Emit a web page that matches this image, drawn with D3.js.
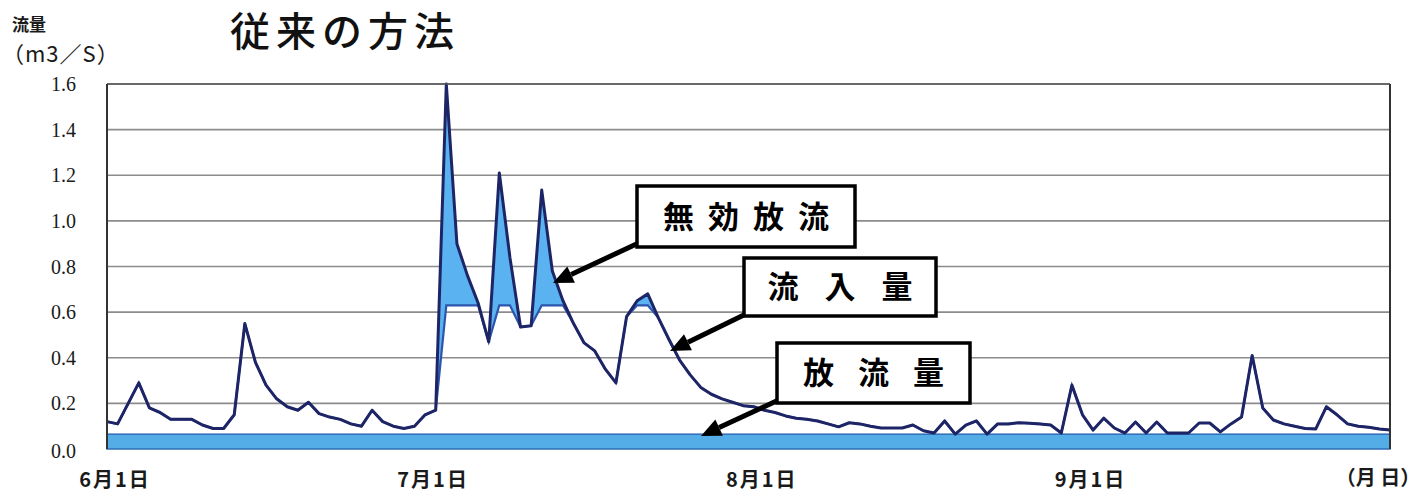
<!DOCTYPE html>
<html>
<head>
<meta charset="utf-8">
<script src="https://cdn.jsdelivr.net/npm/d3@7"></script>
<style>
  body { margin: 0; background: #fff; }
</style>
</head>
<body>
<div id="chart"></div>
<script>
// daily inflow (m3/s), 6/1 .. 9/30
const firstDay = '2009-06-01'
const inflow = [
  // June
  0.12, 0.11, 0.20, 0.29, 0.18, 0.16, 0.13, 0.13, 0.13, 0.105,
  0.09, 0.09, 0.15, 0.55, 0.38, 0.28, 0.22, 0.185, 0.17, 0.205,
  0.155, 0.14, 0.13, 0.11, 0.10, 0.17, 0.12, 0.10, 0.09, 0.10,
  // July
  0.15, 0.17, 1.60, 0.90, 0.76, 0.64, 0.47, 1.21, 0.84, 0.535,
  0.54, 1.135, 0.78, 0.65, 0.55, 0.465, 0.43, 0.35, 0.29, 0.58,
  0.65, 0.68, 0.575, 0.48, 0.39, 0.325, 0.27, 0.24, 0.22, 0.205,
  0.19,
  // August
  0.185, 0.17, 0.16, 0.145, 0.135, 0.13, 0.123, 0.11, 0.097, 0.115,
  0.11, 0.10, 0.092, 0.092, 0.092, 0.105, 0.08, 0.07, 0.123, 0.065,
  0.105, 0.123, 0.065, 0.11, 0.11, 0.115, 0.113, 0.11, 0.105, 0.07,
  0.28,
  // September
  0.15, 0.083, 0.135, 0.092, 0.07, 0.118, 0.07, 0.118, 0.07, 0.07,
  0.07, 0.114, 0.114, 0.075, 0.11, 0.14, 0.41, 0.18, 0.127, 0.11,
  0.10, 0.09, 0.088, 0.185, 0.15, 0.11, 0.10, 0.095, 0.088, 0.083
]
const capacity = 0.63      // intake limit, above it is 無効放流
const outflowLevel = 0.065 // 放流量

const yTicks = [0, 0.2, 0.4, 0.6, 0.8, 1.0, 1.2, 1.4, 1.6]
const xTickDays = ['2009-06-01', '2009-07-01', '2009-08-01', '2009-09-01']
const xTickLabels = ['6月1日', '7月1日', '8月1日', '9月1日']
const noteLabels = ['無効放流', '流入量', '放流量']

const width = 1421
const height = 501
const plot = { left: 107, right: 1390, top: 84, bottom: 449 }

const parse = d3.utcParse('%Y-%m-%d')
const start = parse(firstDay)
const data = inflow.map((v, i) => ({ date: d3.utcDay.offset(start, i), v }))

const svg = d3
  .select('#chart')
  .append('svg')
  .attr('width', width)
  .attr('height', height)
  .style('font-family', "'Noto Sans CJK JP', sans-serif")

const x = d3
  .scaleUtc()
  .domain(d3.extent(data, d => d.date))
  .range([plot.left, plot.right])

const y = d3
  .scaleLinear()
  .domain([0, 1.6])
  .range([plot.bottom, plot.top])

// gridlines
svg
  .append('g')
  .selectAll('line')
  .data(yTicks.filter(t => t > 0))
  .join('line')
  .attr('x1', plot.left)
  .attr('x2', plot.right)
  .attr('y1', d => y(d))
  .attr('y2', d => y(d))
  .attr('stroke', '#8c8c8c')
  .attr('stroke-width', 1.6)

// y labels
svg
  .append('g')
  .selectAll('text')
  .data(yTicks)
  .join('text')
  .attr('x', 76)
  .attr('y', d => y(d) + (d === 0 ? 9 : 7))
  .attr('text-anchor', 'end')
  .attr('font-family', "'Liberation Serif', serif")
  .attr('font-size', 20)
  .attr('fill', '#1a1a1a')
  .text(d => d.toFixed(1))

// x labels
svg
  .append('g')
  .selectAll('text')
  .data(xTickDays)
  .join('text')
  .attr('x', d => x(parse(d)) + 8)
  .attr('y', 487)
  .attr('text-anchor', 'middle')
  .attr('font-size', 20)
  .attr('font-weight', 'bold')
  .attr('letter-spacing', 2)
  .attr('fill', '#1a1a1a')
  .text((d, i) => xTickLabels[i])

svg
  .append('text')
  .attr('x', 1378)
  .attr('y', 485)
  .attr('text-anchor', 'middle')
  .attr('font-size', 20)
  .attr('font-weight', 'bold')
  .attr('fill', '#1a1a1a')
  .text('（月 日）')

// 放流量 band
svg
  .append('rect')
  .attr('x', plot.left)
  .attr('width', plot.right - plot.left)
  .attr('y', y(outflowLevel))
  .attr('height', y(0) - y(outflowLevel))
  .attr('fill', '#55ade8')
  .attr('stroke', '#2f6db4')
  .attr('stroke-width', 1.5)

// 無効放流: area between capacity and inflow
const area = d3
  .area()
  .x(d => x(d.date))
  .y0(d => y(Math.min(d.v, capacity)))
  .y1(d => y(d.v))

svg
  .append('path')
  .datum(data)
  .attr('d', area)
  .attr('fill', '#5ab2f0')

const capLine = d3
  .line()
  .x(d => x(d.date))
  .y(d => y(Math.min(d.v, capacity)))

svg
  .append('path')
  .datum(data)
  .attr('d', capLine)
  .attr('fill', 'none')
  .attr('stroke', '#2c55ad')
  .attr('stroke-width', 2.2)

const line = d3
  .line()
  .x(d => x(d.date))
  .y(d => y(d.v))

svg
  .append('path')
  .datum(data)
  .attr('d', line)
  .attr('fill', 'none')
  .attr('stroke', '#1e2566')
  .attr('stroke-width', 3)
  .attr('stroke-linejoin', 'round')

// frame
svg
  .append('line')
  .attr('x1', plot.left).attr('x2', plot.right)
  .attr('y1', plot.top).attr('y2', plot.top)
  .attr('stroke', '#555').attr('stroke-width', 1.6)
svg
  .selectAll('.side')
  .data([plot.left, plot.right])
  .join('line')
  .attr('class', 'side')
  .attr('x1', d => d).attr('x2', d => d)
  .attr('y1', plot.top).attr('y2', plot.bottom)
  .attr('stroke', '#333').attr('stroke-width', 2)

// titles
svg
  .append('text')
  .attr('x', 345)
  .attr('y', 46)
  .attr('text-anchor', 'middle')
  .attr('font-size', 40)
  .attr('font-weight', 500)
  .attr('letter-spacing', 6)
  .attr('fill', '#111')
  .text('従来の方法')

svg
  .append('text')
  .attr('x', 12)
  .attr('y', 31)
  .attr('font-size', 17)
  .attr('font-weight', 'bold')
  .attr('fill', '#1a1a1a')
  .text('流量')

svg
  .append('text')
  .attr('x', 2)
  .attr('y', 62)
  .attr('font-size', 22)
  .attr('letter-spacing', 1)
  .attr('fill', '#1a1a1a')
  .text('（m3／S）')

// annotations
const notes = [
  { box: [637, 186, 218, 61], spacing: 14, from: [645, 240], to: [553, 283] },
  { box: [744, 258, 192, 58], spacing: 26, from: [752, 311], to: [670, 351] },
  { box: [777, 343, 193, 60], spacing: 24, from: [785, 397], to: [701, 436] }
]

function arrow(g, from, to) {
  const dx = to[0] - from[0]
  const dy = to[1] - from[1]
  const len = Math.hypot(dx, dy)
  const ux = dx / len
  const uy = dy / len
  const headLen = 20
  const headW = 9
  const bx = to[0] - ux * headLen
  const by = to[1] - uy * headLen
  g.append('line')
    .attr('x1', from[0]).attr('y1', from[1])
    .attr('x2', bx).attr('y2', by)
    .attr('stroke', '#000')
    .attr('stroke-width', 5)
  g.append('path')
    .attr('d', d3.line()([
      to,
      [bx - uy * headW, by + ux * headW],
      [bx + uy * headW, by - ux * headW]
    ]) + 'Z')
    .attr('fill', '#000')
}

notes.forEach((n, i) => {
  const g = svg.append('g')
  arrow(g, n.from, n.to)
  const [bx, by, bw, bh] = n.box
  g.append('rect')
    .attr('x', bx).attr('y', by)
    .attr('width', bw).attr('height', bh)
    .attr('fill', '#fff')
    .attr('stroke', '#000')
    .attr('stroke-width', 3.5)
  g.append('text')
    .attr('x', bx + bw / 2 + n.spacing / 2)
    .attr('y', by + bh / 2 + 11)
    .attr('text-anchor', 'middle')
    .attr('font-size', 31)
    .attr('font-weight', 'bold')
    .attr('letter-spacing', n.spacing)
    .attr('fill', '#000')
    .text(noteLabels[i])
})
</script>
</body>
</html>
